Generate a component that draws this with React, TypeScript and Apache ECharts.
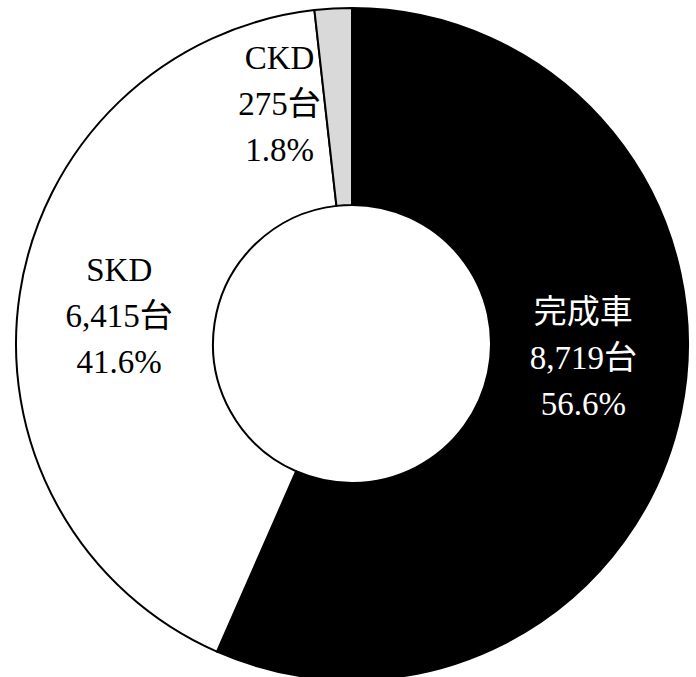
import React, { useEffect, useRef } from "react";
import * as echarts from "echarts";

const categories = ["完成車", "SKD", "CKD"];
const units = [8719, 6415, 275];
const percents = ["56.6%", "41.6%", "1.8%"];
const colors = ["#000000", "#ffffff", "#d9d9d9"];
const labelColors = ["#ffffff", "#000000", "#000000"];

export default function App() {
  const ref = useRef<HTMLDivElement>(null);
  useEffect(() => {
    document.body.style.margin = "0";
    const chart = echarts.init(ref.current!, null, { renderer: "svg" });
    const font = "'Liberation Serif', 'Noto Sans CJK JP', serif";
    const offsets: [number, number][] = [[-4, -35], [5, 8], [-59, 0]];
    const aligns = ["center", "center", "right"];
    chart.setOption({
      animation: false,
      backgroundColor: "#ffffff",
      series: [
        {
          type: "pie",
          center: [352, 344],
          radius: [139, 336],
          startAngle: 90,
          clockwise: true,
          avoidLabelOverlap: false,
          labelLine: { show: false },
          emphasis: { disabled: true },
          data: categories.map((name, i) => ({
            name,
            value: units[i],
            itemStyle: { color: colors[i], borderColor: "#000", borderWidth: 2 },
            label: {
              show: true,
              position: "inside",
              color: labelColors[i],
              fontFamily: font,
              fontSize: 33,
              lineHeight: 46,
              align: aligns[i],
              offset: offsets[i],
              formatter: () =>
                `${name}\n${units[i].toLocaleString("en-US")}台\n${percents[i]}`,
            },
          })),
        },
      ],
    });
    return () => chart.dispose();
  }, []);
  return (
    <div
      ref={ref}
      style={{ position: "fixed", left: 0, top: 0, width: 696, height: 677 }}
    />
  );
}
